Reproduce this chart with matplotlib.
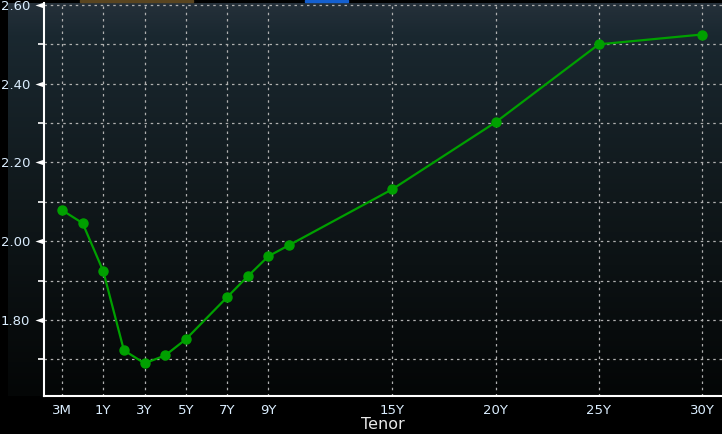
import numpy as np
import matplotlib
matplotlib.use("Agg")
import matplotlib.pyplot as plt

# Data
tenor_labels = ["3M", "6M", "1Y", "2Y", "3Y", "4Y", "5Y", "7Y", "8Y", "9Y", "10Y", "15Y", "20Y", "25Y", "30Y"]
tenor_pos = [-1, 0, 1, 2, 3, 4, 5, 7, 8, 9, 10, 15, 20, 25, 30]
yields = [2.079, 2.046, 1.924, 1.723, 1.690, 1.710, 1.751, 1.858, 1.911, 1.962, 1.990, 2.132, 2.302, 2.500, 2.525]
xtick_pos = [-1, 1, 3, 5, 7, 9, 15, 20, 25, 30]
xtick_labels = ["3M", "1Y", "3Y", "5Y", "7Y", "9Y", "15Y", "20Y", "25Y", "30Y"]
ytick_major = [1.80, 2.00, 2.20, 2.40, 2.60]
ytick_minor = [1.70, 1.90, 2.10, 2.30, 2.50]

W, H = 722, 434
fig = plt.figure(figsize=(W / 100, H / 100), dpi=100)
fig.patch.set_facecolor("black")

# Background gradient (behind plot + y label area)
bg = fig.add_axes([8 / W, (H - 396) / H, (W - 8) / W, 393 / H])
bg.set_axis_off()
bg.set_zorder(-10)
top = np.array([0x25, 0x30, 0x3a]) / 255
mid1 = np.array([0x1a, 0x28, 0x30]) / 255
mid2 = np.array([0x10, 0x18, 0x1b]) / 255
bot = np.array([0x04, 0x06, 0x06]) / 255
t = np.linspace(0, 1, 256)
stops = [0, 0.08, 0.5, 1.0]
cols = [top, mid1, mid2, bot]
grad = np.zeros((256, 1, 3))
for c in range(3):
    grad[:, 0, c] = np.interp(t, stops, [cc[c] for cc in cols])
bg.imshow(grad, aspect="auto", extent=[0, 1, 0, 1])
bg.set_xlim(0, 1); bg.set_ylim(0, 1)

# top tabs decoration
fig.patches.append(plt.Rectangle((80 / W, (H - 2) / H), 113 / W, 2 / H, transform=fig.transFigure, color="#5a4520"))
fig.patches.append(plt.Rectangle((305 / W, (H - 2) / H), 43 / W, 2 / H, transform=fig.transFigure, color="#1560d0"))

ax = fig.add_axes([44 / W, (H - 396) / H, (W - 44) / W, 393 / H])
ax.patch.set_alpha(0)

ax.plot(tenor_pos, yields, color="#00a000", lw=1.6, marker="o", ms=6.5,
        markerfacecolor="#00a000", markeredgecolor="#00a000", zorder=3)

ax.set_xlim(-1.87, 30.97)
ax.set_ylim(1.607, 2.605)

ax.set_xticks(xtick_pos)
ax.set_xticklabels(xtick_labels)
ax.set_yticks(ytick_major)
ax.set_yticklabels([f"{v:.2f}" for v in ytick_major])
ax.set_yticks(ytick_minor, minor=True)

ax.grid(True, which="both", axis="y", color="#b0b0b0", linestyle=(0, (2, 3)), lw=0.9)
ax.grid(True, which="major", axis="x", color="#b0b0b0", linestyle=(0, (2, 3)), lw=0.9)

for s in ["top", "right"]:
    ax.spines[s].set_visible(False)
for s in ["left", "bottom"]:
    ax.spines[s].set_color("white")
    ax.spines[s].set_linewidth(1.5)

ax.tick_params(axis="x", length=0, pad=6, labelsize=9.5, labelcolor="#dbeeff")
ax.tick_params(axis="y", which="major", length=0, pad=10, labelsize=9.5, labelcolor="#dbeeff")
ax.tick_params(axis="y", which="minor", length=4, width=1.2, color="white", direction="out")

# elongated triangle tick markers on major y ticks (tip pointing left, base at spine)
tri = [(0, 0.5), (0, -0.5), (-1.5, 0), (0, 0.5)]
for yv in ytick_major:
    ax.plot([0.0], [yv], marker=tri, ms=13, color="white", mew=0,
            transform=ax.get_yaxis_transform(), clip_on=False, zorder=5)

ax.set_xlabel("Tenor", color="#e8e8e8", fontsize=11.5, labelpad=0)

fig.savefig("out.png", dpi=100, facecolor=fig.get_facecolor())
